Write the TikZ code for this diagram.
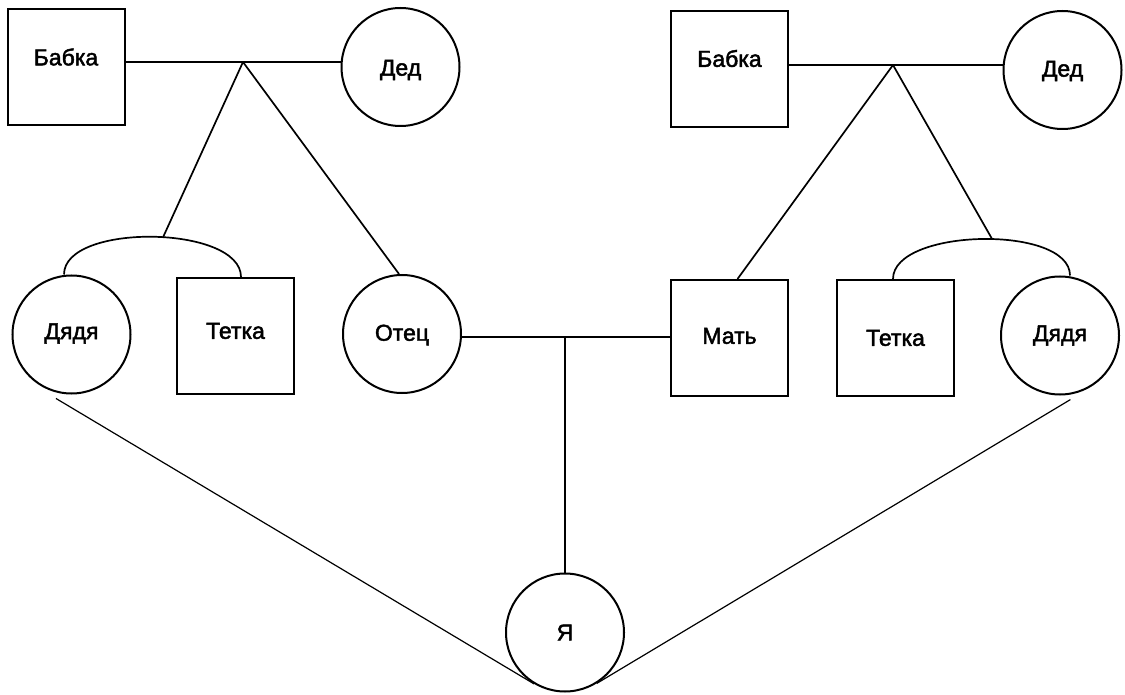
\documentclass[tikz,border=0pt]{standalone}
\usepackage{fontspec}
\setmainfont{Liberation Sans}
\newfontfamily\namefont{Liberation Sans}[FakeBold=2]
\usepackage{tikz}

\tikzset{
  sq/.style={draw, rectangle, line width=2pt, inner sep=0pt,
    minimum width=117pt, minimum height=116pt},
  ring/.style={draw, circle, line width=2pt, inner sep=0pt, minimum size=118pt},
  txt/.style={anchor=base, font=\namefont\fontsize{23}{27}\selectfont},
  tie/.style={line width=1.7pt},
  thin/.style={line width=1.2pt}
}

\begin{document}
\begin{tikzpicture}[x=1pt, y=-1pt]
        \useasboundingbox (0,0) rectangle (1125,695);
        % Father's side
        \node[sq, label={[txt,yshift=10pt]center:Бабка}] (babL) at (66,67) {};
        \node[ring, label={[txt,yshift=-3pt]center:Дед}] (dedL) at (400.5,67) {};
        \node[ring, label={[txt,yshift=1pt]center:Дядя}] (djadL) at (71.5,334.5) {};
        \node[sq, label={[txt,yshift=5pt]center:Тетка}] (tetL) at (235.5,336) {};
        \node[ring, label={[txt,yshift=-1pt]center:Отец}] (otec) at (402,334) {};
        % Mother's side
        \node[sq, label={[txt,yshift=11pt]center:Бабка}] (babR) at (729.5,69.5) {};
        \node[ring, label={[txt,yshift=-1pt]center:Дед}] (dedR) at (1062.5,70) {};
        \node[sq, label={[txt,yshift=2pt]center:Мать}] (mat) at (729.5,338) {};
        \node[sq, label={[txt]center:Тетка}] (tetR) at (895.5,338) {};
        \node[ring, label={[txt]center:Дядя}] (djadR) at (1060,335.5) {};
        % Ego
        \node[ring, label={[txt]center:Я}] (ja) at (565,632.5) {};

        \coordinate (mL) at (243,62);
        \coordinate (mR) at (893,65);
        \coordinate (jM) at (565,337);
        % Marriages
        \draw[tie] (babL.east |- mL) -- (dedL.west |- mL);
        \draw[tie] (babR.east |- mR) -- (dedR.west |- mR);
        \draw[tie] (otec.east |- jM) -- (mat.west |- jM);
        % Siblings
        \draw[tie] ([xshift=-7.5pt]djadL.north) .. controls +(0,-52) and +(0,-52)
          .. coordinate[pos=0.54] (jL) ([xshift=5.5pt]tetL.north);
        \draw[tie] ([xshift=-2.5pt]tetR.north) .. controls +(0,-51) and +(0,-51)
          .. coordinate[pos=0.54] (jR) ([xshift=10pt]djadR.north);
        % Descent
        \draw[tie] (mL) -- (jL);
        \draw[tie] (mL) -- ([xshift=-3pt]otec.north);
        \draw[tie] (mR) -- ([xshift=8pt]mat.north);
        \draw[tie] (mR) -- (jR);
        \draw[tie] (jM) -- (ja.north);
        \draw[thin] ([yshift=-6pt]djadL.255) -- (ja.239);
        \draw[thin] ([yshift=-5pt]djadR.280) -- (ja.302);
      \end{tikzpicture}
\end{document}
